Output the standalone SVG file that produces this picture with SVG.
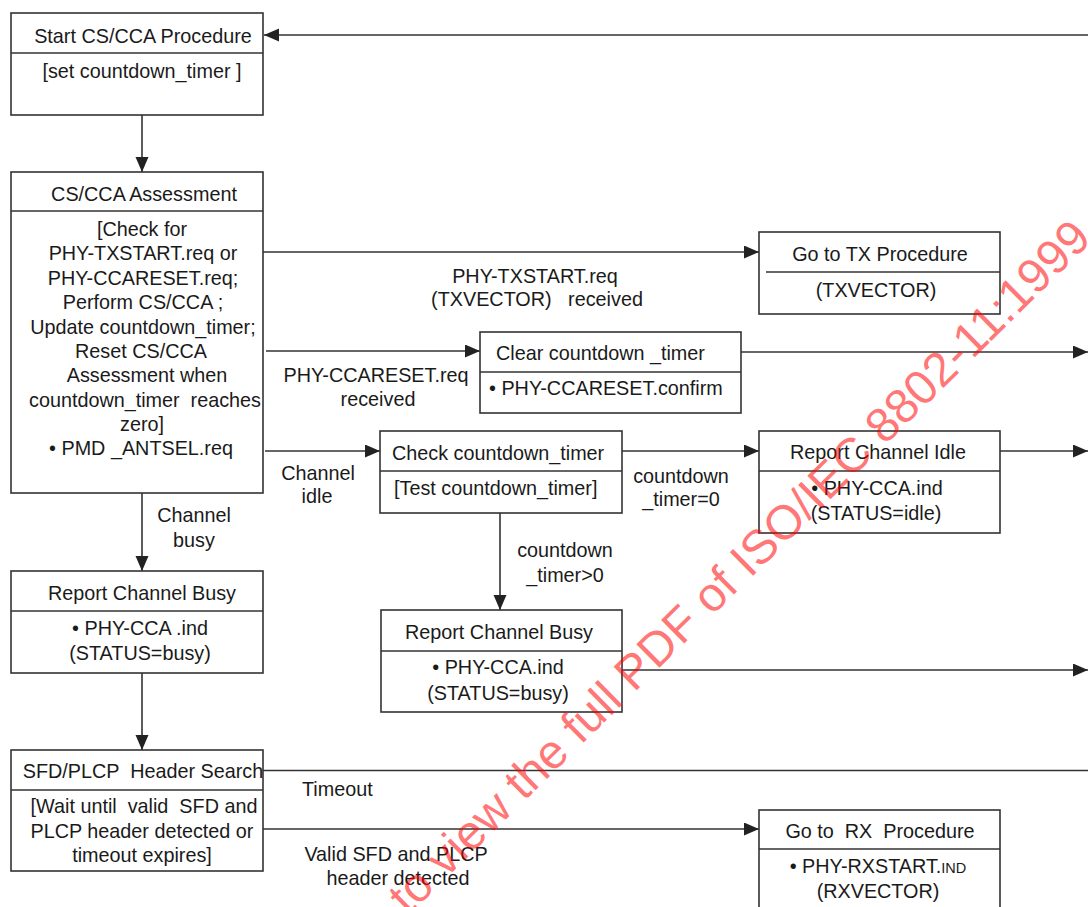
<svg xmlns="http://www.w3.org/2000/svg" width="1088" height="907" viewBox="0 0 1088 907">
<defs>
<style>
.box{fill:#fff;stroke:#333;stroke-width:1.6}
.div{stroke:#333;stroke-width:1.6;fill:none}
.ln{stroke:#333;stroke-width:1.6;fill:none}
text{font-family:"Liberation Sans",Arial,sans-serif;font-size:19.8px;fill:#1a1a1a}
.c{text-anchor:middle}
.wm{font-family:"Liberation Sans",Arial,sans-serif;font-size:48px;fill:#ff0000;fill-opacity:0.55}
</style>
<marker id="ah" markerUnits="userSpaceOnUse" markerWidth="16" markerHeight="14" refX="15" refY="6.5" orient="auto">
<path d="M0,0 L15,6.5 L0,13 Z" fill="#222"/>
</marker>
</defs>
<rect width="1088" height="907" fill="#fff"/>

<g id="connectors">
<line class="ln" x1="1088" y1="35" x2="264" y2="35" marker-end="url(#ah)"/>
<line class="ln" x1="142" y1="115" x2="142" y2="172" marker-end="url(#ah)"/>
<line class="ln" x1="263" y1="252" x2="759" y2="252" marker-end="url(#ah)"/>
<line class="ln" x1="266" y1="351" x2="480" y2="351" marker-end="url(#ah)"/>
<line class="ln" x1="741" y1="352" x2="1088" y2="352" marker-end="url(#ah)"/>
<line class="ln" x1="265" y1="451" x2="380" y2="451" marker-end="url(#ah)"/>
<line class="ln" x1="622" y1="451" x2="759" y2="451" marker-end="url(#ah)"/>
<line class="ln" x1="1000" y1="451" x2="1088" y2="451" marker-end="url(#ah)"/>
<line class="ln" x1="500" y1="513" x2="500" y2="610" marker-end="url(#ah)"/>
<line class="ln" x1="622" y1="670" x2="1088" y2="670" marker-end="url(#ah)"/>
<line class="ln" x1="142" y1="493" x2="142" y2="571" marker-end="url(#ah)"/>
<line class="ln" x1="142" y1="673" x2="142" y2="750" marker-end="url(#ah)"/>
<line class="ln" x1="263" y1="770.5" x2="1088" y2="770.5"/>
<line class="ln" x1="263" y1="829" x2="759" y2="829" marker-end="url(#ah)"/>
<text class="c" x="535" y="283">PHY-TXSTART.req</text>
<text class="c" x="537" y="306" xml:space="preserve">(TXVECTOR)   received</text>
<text class="c" x="376" y="382">PHY-CCARESET.req</text>
<text class="c" x="378" y="406">received</text>
<text class="c" x="318" y="480">Channel</text>
<text class="c" x="317" y="503">idle</text>
<text class="c" x="681" y="483">countdown</text>
<text class="c" x="681" y="506">_timer=0</text>
<text class="c" x="565" y="557">countdown</text>
<text class="c" x="565" y="582">_timer&gt;0</text>
<text class="c" x="194" y="522">Channel</text>
<text class="c" x="194" y="547">busy</text>
<text x="302" y="796">Timeout</text>
<text class="c" x="396" y="861">Valid SFD and PLCP</text>
<text class="c" x="398" y="885">header detected</text>
</g>

<g id="start">
<rect class="box" x="11" y="13" width="252" height="102"/>
<line class="div" x1="11" y1="53" x2="263" y2="53"/>
<text class="c" x="143" y="43">Start CS/CCA Procedure</text>
<text class="c" x="142" y="78">[set countdown_timer ]</text>
</g>

<g id="assessment">
<rect class="box" x="11" y="172" width="252" height="321"/>
<line class="div" x1="11" y1="211" x2="263" y2="211"/>
<text class="c" x="144" y="201">CS/CCA Assessment</text>
<text class="c" x="142" y="236">[Check for</text>
<text class="c" x="143" y="260">PHY-TXSTART.req or</text>
<text class="c" x="143" y="285">PHY-CCARESET.req;</text>
<text class="c" x="143" y="309">Perform CS/CCA ;</text>
<text class="c" x="143" y="334">Update countdown_timer;</text>
<text class="c" x="141" y="358">Reset CS/CCA</text>
<text class="c" x="147" y="382">Assessment when</text>
<text class="c" x="145" y="407" xml:space="preserve">countdown_timer  reaches</text>
<text class="c" x="142" y="431">zero]</text>
<text class="c" x="141" y="455">•  PMD _ANTSEL.req</text>
</g>

<g id="go-tx">
<rect class="box" x="759" y="232" width="241" height="82"/>
<line class="div" x1="766" y1="272" x2="1000" y2="272"/>
<text class="c" x="880" y="261">Go to TX Procedure</text>
<text class="c" x="876" y="297">(TXVECTOR)</text>
</g>

<g id="clear">
<rect class="box" x="480" y="332" width="261" height="81"/>
<line class="div" x1="480" y1="372" x2="741" y2="372"/>
<text x="496" y="360">Clear countdown _timer</text>
<text x="489" y="395">• PHY-CCARESET.confirm</text>
</g>

<g id="check">
<rect class="box" x="380" y="431" width="242" height="82"/>
<line class="div" x1="380" y1="471" x2="622" y2="471"/>
<text x="392" y="460">Check countdown_timer</text>
<text x="394" y="495">[Test countdown_timer]</text>
</g>

<g id="report-idle">
<rect class="box" x="759" y="431" width="241" height="102"/>
<line class="div" x1="759" y1="471" x2="1000" y2="471"/>
<text class="c" x="878" y="459">Report Channel Idle</text>
<text class="c" x="877" y="495">• PHY-CCA.ind</text>
<text class="c" x="876" y="520">(STATUS=idle)</text>
</g>

<g id="report-busy-right">
<rect class="box" x="381" y="610" width="241" height="102"/>
<line class="div" x1="381" y1="651" x2="622" y2="651"/>
<text class="c" x="499" y="639">Report Channel Busy</text>
<text class="c" x="498" y="674">• PHY-CCA.ind</text>
<text class="c" x="498" y="700">(STATUS=busy)</text>
</g>

<g id="report-busy-left">
<rect class="box" x="11" y="571" width="252" height="102"/>
<line class="div" x1="11" y1="611" x2="263" y2="611"/>
<text class="c" x="142" y="600">Report Channel Busy</text>
<text class="c" x="140" y="635">• PHY-CCA .ind</text>
<text class="c" x="140" y="660">(STATUS=busy)</text>
</g>

<g id="sfd">
<rect class="box" x="11" y="750" width="252" height="121"/>
<line class="div" x1="11" y1="790" x2="263" y2="790"/>
<text class="c" x="143" y="778" xml:space="preserve">SFD/PLCP  Header Search</text>
<text class="c" x="144" y="813" xml:space="preserve">[Wait until  valid  SFD and</text>
<text class="c" x="142" y="838">PLCP header detected or</text>
<text class="c" x="142" y="862">timeout expires]</text>
</g>

<g id="go-rx">
<rect class="box" x="759" y="810" width="241" height="110"/>
<line class="div" x1="759" y1="849" x2="1000" y2="849"/>
<text class="c" x="880" y="838" xml:space="preserve">Go to  RX  Procedure</text>
<text class="c" x="878" y="873">• PHY-RXSTART.<tspan font-size="14.5">IND</tspan></text>
<text class="c" x="878" y="898">(RXVECTOR)</text>
</g>

<g id="watermark">
<text class="wm" transform="translate(408,916) rotate(-44.6)">to view the full PDF of ISO/IEC 8802-11:1999</text>
</g>
</svg>
